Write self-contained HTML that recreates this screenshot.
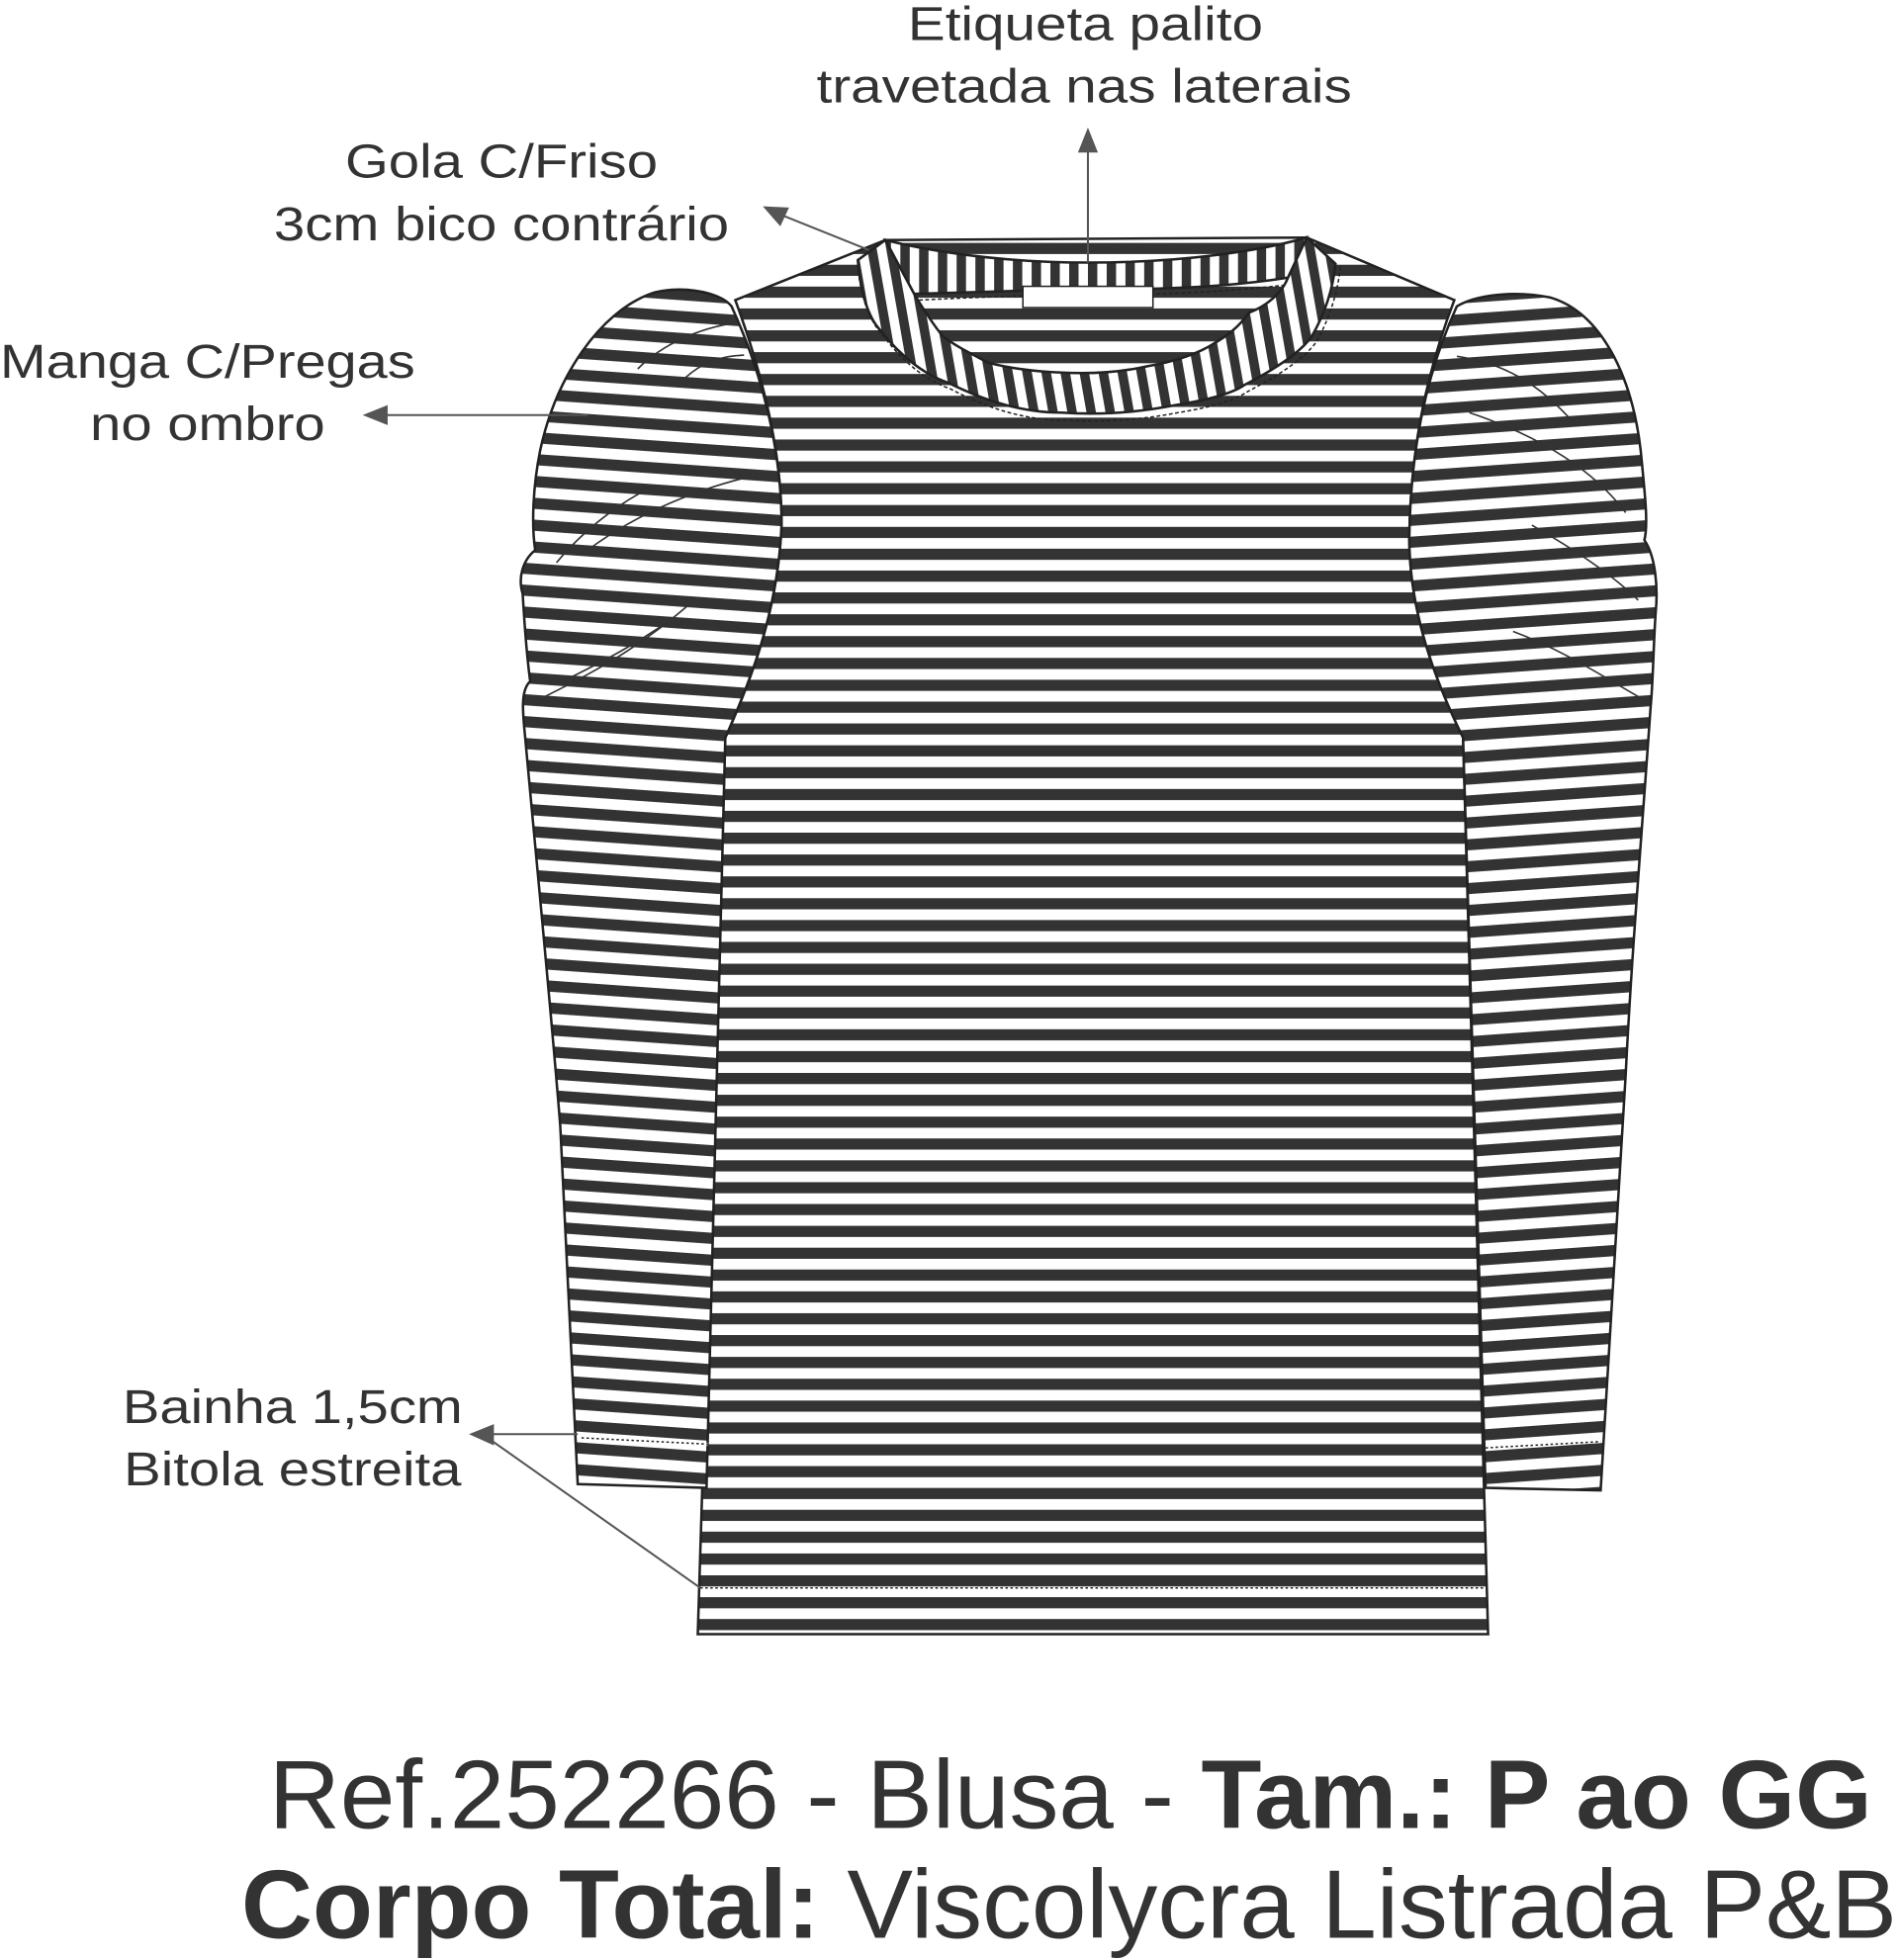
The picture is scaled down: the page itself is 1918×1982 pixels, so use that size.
<!DOCTYPE html>
<html><head><meta charset="utf-8"><style>
html,body{margin:0;padding:0;background:#fff;}
svg{display:block;}
text{font-family:"Liberation Sans",Arial,sans-serif;fill:#333;}
</style></head><body>
<svg width="1918" height="1982" viewBox="0 0 1517 1567.6" xmlns="http://www.w3.org/2000/svg">
<defs>
<pattern id="hs" patternUnits="userSpaceOnUse" width="2000" height="17.47" y="2.1">
<rect x="0" y="0" width="2000" height="17.47" fill="#fff"/>
<rect x="0" y="0" width="2000" height="8.9" fill="#333"/>
</pattern>
<pattern id="ls" patternUnits="userSpaceOnUse" width="2000" height="17.47" y="2.1" patternTransform="rotate(4 500 700)">
<rect x="-500" y="0" width="3000" height="17.47" fill="#fff"/>
<rect x="-500" y="0" width="3000" height="8.9" fill="#333"/>
</pattern>
<pattern id="rs" patternUnits="userSpaceOnUse" width="2000" height="17.47" y="2.1" patternTransform="rotate(-4 1250 700)">
<rect x="-500" y="0" width="3000" height="17.47" fill="#fff"/>
<rect x="-500" y="0" width="3000" height="8.9" fill="#333"/>
</pattern>
<pattern id="vs" patternUnits="userSpaceOnUse" width="15" height="2000">
<rect x="0" y="0" width="15" height="2000" fill="#fff"/>
<rect x="0" y="0" width="7.5" height="2000" fill="#333"/>
</pattern>
<pattern id="vs2" patternUnits="userSpaceOnUse" width="15" height="2000" patternTransform="rotate(-10 870 250)">
<rect x="0" y="-500" width="15" height="3000" fill="#fff"/>
<rect x="0" y="-500" width="7.5" height="3000" fill="#333"/>
</pattern>
</defs>

<!-- body -->
<path d="M708,192 L588,240 C610,300 625,360 625,420 C622,490 600,545 580,590 L558,1307 L1190,1307 L1170,590 C1148,545 1127,490 1127,430 C1128,360 1140,300 1163,240 L1045,190 Z" fill="url(#hs)" stroke="#222" stroke-width="2"/>
<line x1="560" y1="1270" x2="1188" y2="1270" stroke="#fff" stroke-width="2"/>
<line x1="560" y1="1270" x2="1188" y2="1270" stroke="#222" stroke-width="1.2" stroke-dasharray="2,2"/>

<!-- left sleeve -->
<path d="M585,245 C575,232 540,228 520,235 C480,250 445,300 432,360 C426,390 425,420 428,440 C418,448 414,462 418,475 C420,510 422,530 424,545 C416,552 418,570 420,590 C430,700 440,800 448,900 L462,1187 L565,1190 L580,590 C600,545 622,490 625,420 C625,360 610,300 585,245 Z" fill="url(#ls)" stroke="#222" stroke-width="2"/>
<path d="M465,1150 L566,1155" stroke="#fff" stroke-width="2"/>
<path d="M465,1150 L566,1155" stroke="#222" stroke-width="1.2" stroke-dasharray="2,2"/>
<g fill="none" stroke="#333" stroke-width="1.3">
<path d="M510,295 C530,275 560,262 590,258"/>
<path d="M545,305 C560,290 575,285 595,284"/>
<path d="M470,440 C510,410 560,390 605,380"/>
<path d="M430,560 C470,540 510,520 555,480"/>
<path d="M450,545 C480,530 500,520 530,500"/>
<path d="M445,450 C470,420 500,400 520,390"/>
</g>

<!-- right sleeve -->
<path d="M1165,245 C1180,236 1210,232 1240,238 C1280,250 1305,300 1312,360 C1316,400 1318,420 1315,432 C1324,445 1326,470 1324,490 C1322,520 1322,545 1320,565 C1312,680 1305,760 1300,860 L1280,1192 L1188,1190 L1170,590 C1148,545 1127,490 1127,430 C1128,360 1140,300 1165,245 Z" fill="url(#rs)" stroke="#222" stroke-width="2"/>
<path d="M1188,1158 L1280,1153" stroke="#fff" stroke-width="2"/>
<path d="M1188,1158 L1280,1153" stroke="#222" stroke-width="1.2" stroke-dasharray="2,2"/>
<g fill="none" stroke="#333" stroke-width="1.3">
<path d="M1165,285 C1200,290 1230,305 1260,340"/>
<path d="M1175,330 C1220,345 1270,370 1300,410"/>
<path d="M1210,505 C1250,520 1280,540 1315,560"/>
<path d="M1225,420 C1260,440 1290,460 1310,480"/>
</g>

<!-- collar back band -->
<path d="M708,192 C760,205 820,210 870,210 C950,210 1010,200 1045,190 L1030,222 C980,230 920,232 870,231 C820,232 770,234 731,235 Z" fill="url(#vs)" stroke="#222" stroke-width="2"/>
<!-- collar front band -->
<path d="M708,192 L686,208 C688,235 695,255 704,264 C720,285 740,300 758,306 C790,322 820,330 849,330 C880,332 910,330 940,324 C965,320 985,315 995,308 C1020,295 1040,282 1049,269 C1060,250 1066,230 1068,211 L1045,190 L1030,222 C1025,235 1012,245 999,250 C990,262 982,268 972,274 C955,285 935,290 917,293 C895,298 870,299 849,298 C825,297 805,294 790,290 C775,282 763,276 754,269 C745,258 737,245 731,235 Z" fill="url(#vs2)" stroke="#222" stroke-width="2"/>
<path d="M686,212 C688,238 696,258 706,268 C722,290 742,305 760,311 C792,328 822,336 850,336 C880,338 912,336 942,330 C968,326 988,320 998,313 C1023,300 1043,287 1053,273 C1064,253 1070,232 1072,213" fill="none" stroke="#222" stroke-width="1.2" stroke-dasharray="3,2"/>
<path d="M735,240 C775,238 820,236 870,236 C920,236 975,234 1028,228" fill="none" stroke="#222" stroke-width="1.2" stroke-dasharray="3,2"/>
<rect x="818" y="229" width="104" height="17" fill="#fff" stroke="#222" stroke-width="1.2"/>

<!-- connectors -->
<g stroke="#555" stroke-width="1.6" fill="#555">
<line x1="870" y1="210" x2="870" y2="118"/>
<polygon points="870,102 862,122 878,122" stroke="none"/>
<line x1="695" y1="200" x2="625" y2="172"/>
<polygon points="610,165 624,181 631,166" stroke="none"/>
<line x1="470" y1="332" x2="305" y2="332"/>
<polygon points="290,332 310,324 310,340" stroke="none"/>
<line x1="462" y1="1147" x2="390" y2="1147"/>
<line x1="560" y1="1270" x2="390" y2="1150"/>
<polygon points="375,1147 395,1139 395,1156" stroke="none"/>
</g>

<!-- labels -->
<g font-size="38" text-anchor="middle">
<text x="868" y="32" textLength="284" lengthAdjust="spacingAndGlyphs">Etiqueta palito</text>
<text x="867" y="82" textLength="428" lengthAdjust="spacingAndGlyphs">travetada nas laterais</text>
<text x="401" y="142" textLength="250" lengthAdjust="spacingAndGlyphs">Gola C/Friso</text>
<text x="401" y="192" textLength="364" lengthAdjust="spacingAndGlyphs">3cm bico contrário</text>
<text x="166" y="302" textLength="332" lengthAdjust="spacingAndGlyphs">Manga C/Pregas</text>
<text x="166" y="352" textLength="188" lengthAdjust="spacingAndGlyphs">no ombro</text>
<text x="234" y="1138" textLength="272" lengthAdjust="spacingAndGlyphs">Bainha 1,5cm</text>
<text x="234" y="1188" textLength="270" lengthAdjust="spacingAndGlyphs">Bitola estreita</text>
</g>
<text x="215" y="1462" font-size="78" textLength="1282" lengthAdjust="spacingAndGlyphs">Ref.252266 - Blusa - <tspan font-weight="bold">Tam.: P ao GG</tspan></text>
<text x="193" y="1550" font-size="78" textLength="1324" lengthAdjust="spacingAndGlyphs"><tspan font-weight="bold">Corpo Total:</tspan> Viscolycra Listrada P&amp;B</text>
</svg>
</body></html>
